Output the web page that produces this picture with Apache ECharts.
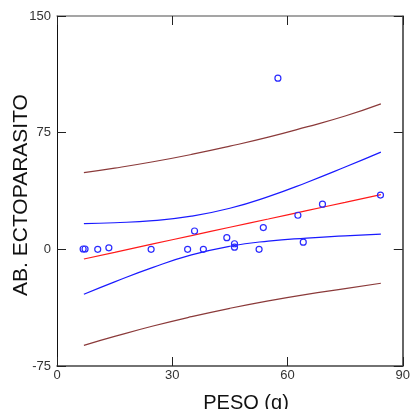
<!DOCTYPE html>
<html>
<head>
<meta charset="utf-8">
<script src="https://cdn.jsdelivr.net/npm/echarts@6/dist/echarts.min.js"></script>
<style>
html,body{margin:0;padding:0;background:#fff;}
#chart{width:413px;height:409px;}
</style>
</head>
<body>
<div id="chart"></div>
<script>
// Observed points
var pesoX = [6.8, 7.3, 10.6, 13.5, 24.5, 34.0, 35.8, 38.1, 44.2, 46.2, 46.2, 52.6, 53.7, 57.5, 62.7, 64.1, 69.1, 84.2];
var abY   = [0.2, 0.2, 0.0, 1.0, 0.0, 0.0, 11.8, 0.0, 7.5, 3.6, 1.4, 0.0, 14.0, 110.0, 21.9, 4.6, 29.0, 34.9];

// Curves
var curveX   = [7, 15, 25, 35, 45, 55, 65, 75, 84.3];
var fitY     = [-6.2, -1.9, 3.5, 8.8, 14.2, 19.5, 24.9, 30.2, 35.2];
var ciUpper  = [16.5, 17.1, 18.5, 21.3, 26.4, 33.9, 43.0, 52.9, 62.5];
var ciLower  = [-28.9, -20.9, -11.6, -3.6, 2.0, 5.3, 7.2, 8.6, 9.8];
var piUpper  = [49.3, 52.2, 56.3, 61.0, 66.3, 72.1, 78.7, 85.7, 93.5];
var piLower  = [-61.7, -56.0, -49.3, -43.3, -37.9, -33.1, -28.9, -25.3, -21.8];

var xTicks = [0, 30, 60, 90];
var yTicks = [-75, 0, 75, 150];

function pairs(xs, ys){ return xs.map(function(x,i){ return [x, ys[i]]; }); }

var chart = echarts.init(document.getElementById('chart'), null, {renderer:'canvas'});
var labelStyle = {color:'#333', fontSize:13, fontFamily:'Liberation Sans, Arial, sans-serif'};

function lineSeries(ys, color){
  return {type:'line', data:pairs(curveX, ys), smooth:true, showSymbol:false, symbol:'none',
    lineStyle:{color:color, width:1.2}, z:2, silent:true};
}

chart.setOption({
  animation:false,
  backgroundColor:'#fff',
  grid:{left:57, right:7, top:16, bottom:43, containLabel:false},
  xAxis:[{
    type:'value', min:xTicks[0], max:xTicks[xTicks.length-1], interval:30,
    axisLine:{show:true, onZero:false, lineStyle:{color:'#444', width:1.5}},
    axisTick:{show:true, inside:true, length:9, lineStyle:{color:'#222'}},
    axisLabel:Object.assign({margin:3}, labelStyle),
    splitLine:{show:false}
  },{
    type:'value', position:'top', min:0, max:90, interval:30,
    axisLine:{show:true, onZero:false, lineStyle:{color:'#888', width:1.5}},
    axisTick:{show:true, inside:true, length:9, lineStyle:{color:'#222'}},
    axisLabel:{show:false}, splitLine:{show:false}
  }],
  yAxis:[{
    type:'value', min:yTicks[0], max:yTicks[yTicks.length-1], interval:75,
    axisLine:{show:true, onZero:false, lineStyle:{color:'#111', width:1}},
    axisTick:{show:true, inside:true, length:9, lineStyle:{color:'#222'}},
    axisLabel:Object.assign({margin:6}, labelStyle),
    splitLine:{show:false}
  },{
    type:'value', position:'right', min:-75, max:150, interval:75,
    axisLine:{show:true, onZero:false, lineStyle:{color:'#333', width:1.5}},
    axisTick:{show:true, inside:true, length:9, lineStyle:{color:'#222'}},
    axisLabel:{show:false}, splitLine:{show:false}
  }],
  graphic:[
    {type:'text', x:21, y:195, rotation:Math.PI/2,
     style:{text:'AB. ECTOPARASITO', fill:'#111', font:'21px "Liberation Sans", Arial, sans-serif',
            textAlign:'center', textVerticalAlign:'middle'}},
    {type:'text', x:246, y:403,
     style:{text:'PESO (g)', fill:'#111', font:'20px "Liberation Sans", Arial, sans-serif',
            textAlign:'center', textVerticalAlign:'middle'}}
  ],
  series:[
    lineSeries(piUpper, '#8b3a3a'),
    lineSeries(piLower, '#8b3a3a'),
    lineSeries(ciUpper, '#1a1aff'),
    lineSeries(ciLower, '#1a1aff'),
    lineSeries(fitY, '#ff1a1a'),
    {type:'scatter', data:pairs(pesoX, abY), symbol:'circle', symbolSize:6,
     itemStyle:{color:'rgba(0,0,0,0)', borderColor:'#2a2aff', borderWidth:1.2, opacity:1}, z:3}
  ]
});
</script>
</body>
</html>
